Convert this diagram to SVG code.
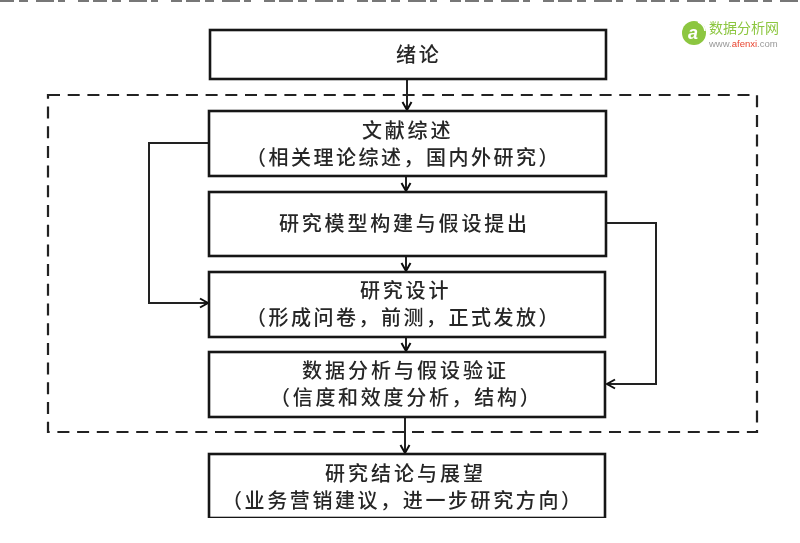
<svg xmlns="http://www.w3.org/2000/svg" width="800" height="543" viewBox="0 0 800 543">
<style>
.b{fill:#fff;stroke:#151515;stroke-width:2.6}
.c{fill:none;stroke:#222;stroke-width:2}
.t{font-family:"Noto Sans CJK SC","Liberation Sans",sans-serif;font-size:20px;fill:#262626;letter-spacing:2.8px;font-weight:500}
</style>
<defs>
<marker id="a" markerUnits="userSpaceOnUse" markerWidth="14" markerHeight="14" refX="10" refY="6" orient="auto"><path d="M2 1.5L10 6L2 10.500" fill="none" stroke="#111" stroke-width="2"/></marker>
<filter id="s" x="0" y="0" width="1" height="1"><feGaussianBlur stdDeviation="0.45"/></filter>
</defs>
<rect width="800" height="543" fill="#fff"/>
<g filter="url(#s)">
<path id="cropped-edge" d="M0 0.500H800" fill="none" stroke="#777" stroke-width="3" stroke-dasharray="14 5 9 8 18 4 7 13 11 4"/>
<g id="connectors">
<path class="c" d="M407 79V110" marker-end="url(#a)"/>
<path class="c" d="M406 176V191" marker-end="url(#a)"/>
<path class="c" d="M406 256V271" marker-end="url(#a)"/>
<path class="c" d="M406 337V351" marker-end="url(#a)"/>
<path class="c" d="M405 417V453" marker-end="url(#a)"/>
<path class="c" d="M209 143H149V303H208" marker-end="url(#a)"/>
<path class="c" d="M606 223H656V384H607" marker-end="url(#a)"/>
</g>
<path id="dashed-frame" d="M48 95H757V432H48Z" fill="none" stroke="#222" stroke-width="2.2" stroke-dasharray="12 7.700"/>
<g id="n1"><rect class="b" x="210" y="30" width="396" height="49"/><text class="t" x="396" y="62">绪论</text></g>
<g id="n2"><rect class="b" x="209" y="111" width="397" height="65"/><text class="t" x="362" y="138">文献综述</text><text class="t" x="246" y="165" style="letter-spacing:2.500px">（相关理论综述，国内外研究）</text></g>
<g id="n3"><rect class="b" x="209" y="192" width="397" height="64"/><text class="t" x="279" y="231">研究模型构建与假设提出</text></g>
<g id="n4"><rect class="b" x="209" y="272" width="396" height="65"/><text class="t" x="360" y="298">研究设计</text><text class="t" x="246" y="325" style="letter-spacing:2.500px">（形成问卷，前测，正式发放）</text></g>
<g id="n5"><rect class="b" x="209" y="352" width="396" height="65"/><text class="t" x="302" y="378" style="letter-spacing:3px">数据分析与假设验证</text><text class="t" x="270" y="405" style="letter-spacing:2.700px">（信度和效度分析，结构）</text></g>
<g id="n6"><rect class="b" x="209" y="454" width="396" height="64"/><text class="t" x="325" y="481" style="letter-spacing:3px">研究结论与展望</text><text class="t" x="222" y="508" style="letter-spacing:2.600px">（业务营销建议，进一步研究方向）</text></g>
<g id="logo">
<circle cx="694" cy="33" r="12" fill="#8cc63f"/>
<path d="M698 22A11 11 0 0 1 705 31" fill="none" stroke="#fff" stroke-width="1.500"/>
<text x="693" y="39" font-family="Liberation Sans,sans-serif" font-size="18" font-style="italic" font-weight="700" fill="#fff" text-anchor="middle">a</text>
<text x="709" y="33" font-family="Noto Sans CJK SC,sans-serif" font-size="14" fill="#8cc63f">数据分析网</text>
<text x="709" y="47" font-family="Liberation Sans,sans-serif" font-size="9.500" fill="#999">www.<tspan fill="#e8432e">afenxi</tspan>.com</text>
</g>
</g>
</svg>
